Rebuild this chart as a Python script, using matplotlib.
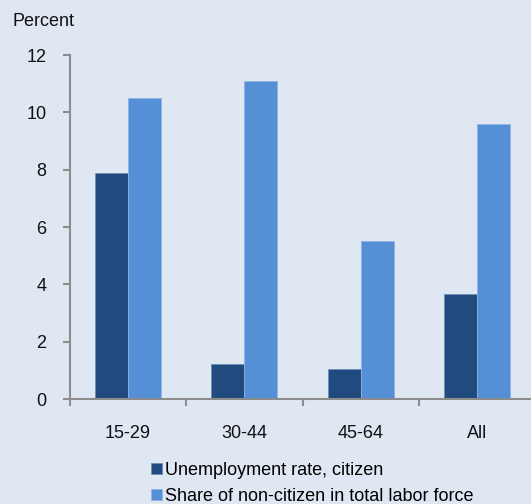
import matplotlib
matplotlib.use("Agg")
import matplotlib.pyplot as plt
import numpy as np

plt.rcParams["font.family"] = ["Liberation Sans", "DejaVu Sans"]

age_groups = ["15-29", "30-44", "45-64", "All"]
unemployment_citizen = [7.87, 1.21, 1.04, 3.66]
noncitizen_share = [10.51, 11.09, 5.51, 9.59]

BG = "#dfe7f2"
DARK = "#214a7e"
LIGHT = "#558fd6"
AXIS = "#8c8c8c"

fig = plt.figure(figsize=(5.31, 5.04), dpi=100, facecolor=BG)
ax = fig.add_axes([70 / 531, 105 / 504, 465 / 531, 344 / 504], facecolor=BG)

x = np.arange(len(age_groups))
w = 0.284
ax.bar(x - w / 2, unemployment_citizen, w, color=DARK, edgecolor="#6f8fb5",
       linewidth=0.6, label="Unemployment rate, citizen", zorder=2)
ax.bar(x + w / 2, noncitizen_share, w, color=LIGHT, edgecolor="#8fb4e6",
       linewidth=0.6, label="Share of non-citizen in total labor force", zorder=2)

ax.set_xlim(-0.5, len(age_groups) - 0.5)
ax.set_ylim(0, 12)
ax.set_yticks(range(0, 13, 2))
ax.set_xticks(x)
ax.set_xticklabels(age_groups)
ax.set_xticks(np.arange(-0.5, len(age_groups)), minor=True)

for side in ("top", "right"):
    ax.spines[side].set_visible(False)
for side in ("left", "bottom"):
    ax.spines[side].set_color(AXIS)
    ax.spines[side].set_linewidth(1.5)

ax.tick_params(axis="y", direction="out", length=5, width=1.5, color=AXIS,
               labelsize=13, pad=12, labelcolor="#111111")
ax.tick_params(axis="x", which="major", length=0, labelsize=13, pad=19,
               labelcolor="#111111")
ax.tick_params(axis="x", which="minor", direction="out", length=5, width=1.5,
               color=AXIS)

fig.text(12 / 531, 1 - 22 / 504, "Percent", fontsize=13, va="center",
         ha="left", color="#111111")

fig.legend(loc="upper left", bbox_to_anchor=(151 / 531, 1 - 462 / 504),
           frameon=False, fontsize=13, handlelength=0.6, handleheight=0.6,
           handletextpad=0.15, labelspacing=0.5, borderaxespad=0,
           borderpad=0)

fig.savefig("out.png", dpi=100, facecolor=BG)
